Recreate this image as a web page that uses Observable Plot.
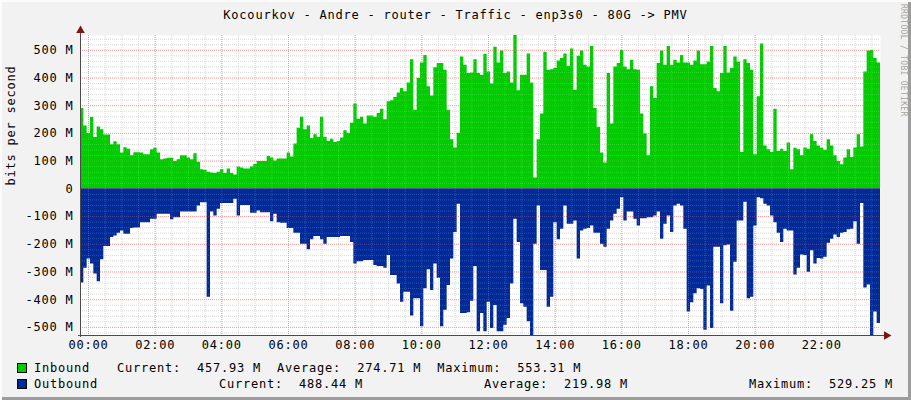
<!DOCTYPE html>
<html>
<head>
<meta charset="utf-8">
<script src="https://cdn.jsdelivr.net/npm/d3@7"></script>
<script src="https://cdn.jsdelivr.net/npm/@observablehq/plot@0.6"></script>
<style>
  body { margin: 0; background: #f2f2f2; }
  #wrap { position: relative; width: 911px; height: 400px; background: #f2f2f2; overflow: hidden;
          font-family: "DejaVu Sans Mono", monospace; font-size: 12px; letter-spacing: 0.78px; color: #000; }
  #wrap .t { position: absolute; white-space: pre; line-height: 16px; }
  #wrap .sw { position: absolute; width: 8px; height: 8px; border: 1px solid #000; }
  #edge { position: absolute; left: 0; top: 0; width: 911px; height: 400px; pointer-events: none;
          box-shadow: inset 2px 2px 0 #fcfcfc, inset -3px -3px 0 #9c9c9c; }
  #chart { position: absolute; left: 0; top: 28px; }
  #mark { position: absolute; left: 898px; top: 4px; writing-mode: vertical-rl; font-size: 8px;
          letter-spacing: 0.3px; color: #a6a6a6; line-height: 10px; }
</style>
</head>
<body>
<div id="wrap">
  <div id="title" class="t" style="left:0;width:911px;text-align:center;top:7px;"></div>
  <div id="chart"></div>
  <div id="mark">RRDTOOL / TOBI OETIKER</div>
  <div id="legend"></div>
  <div id="edge"></div>
</div>
<script>
// ---- data (Mbit/s), one sample every 6 minutes starting 00:00 - 14.4 min ----
const startHour = -0.24;
const stepHours = 0.1;

const inbound = [
  290,227,200,257,185,223,213,194,194,159,
  170,159,129,148,143,119,130,130,129,123,
  123,141,146,129,105,108,110,110,99,105,
  119,119,111,105,127,96,69,67,60,57,
  55,60,69,55,72,55,50,79,75,72,
  72,79,88,99,99,99,117,111,100,108,
  108,108,129,115,162,219,258,213,227,182,
  195,186,258,186,171,179,167,171,183,210,
  201,237,306,251,258,234,263,263,258,272,
  287,249,314,318,330,346,362,350,382,466,
  284,398,454,481,368,335,437,452,452,428,
  284,177,147,201,476,446,416,418,466,416,
  410,485,422,378,511,454,497,416,422,382,
  553,354,410,410,487,382,39,177,270,493,
  428,430,434,461,470,487,442,505,356,478,
  497,446,440,514,290,222,129,93,416,234,
  440,452,499,440,430,464,430,428,270,198,
  119,368,326,452,497,446,514,446,464,454,
  481,454,454,446,461,497,448,448,458,514,
  362,350,416,514,418,434,476,458,131,466,
  452,428,123,332,523,155,141,131,287,135,
  143,135,165,69,146,141,119,147,143,195,
  171,155,146,139,177,155,119,99,87,111,
  141,113,147,195,151,422,497,499,470,454
];

const outbound = [
  340,287,253,271,307,335,256,208,208,176,
  170,160,152,164,164,143,141,141,122,122,
  122,110,110,92,92,92,92,112,104,104,
  84,84,84,84,84,62,50,50,391,84,
  98,74,53,53,53,53,38,98,60,60,
  60,88,88,80,86,86,86,119,92,122,
  124,124,143,143,160,160,200,200,220,184,
  172,172,184,200,176,176,176,176,172,172,
  172,194,271,263,263,259,259,259,277,280,
  280,287,241,313,313,343,409,373,373,459,
  397,397,498,361,292,367,271,323,498,438,
  349,253,158,56,450,450,447,406,280,516,
  450,516,409,504,421,516,516,492,468,343,
  110,194,415,427,480,529,200,62,295,295,
  427,391,122,184,146,62,128,128,116,253,
  152,146,143,134,160,160,200,211,146,116,
  92,74,32,116,84,84,110,134,108,108,
  104,104,98,84,182,128,98,158,62,56,
  62,146,444,411,379,361,363,510,351,504,
  211,211,415,205,203,442,265,116,116,48,
  397,391,134,32,36,56,62,98,122,160,
  194,146,152,152,311,287,239,241,301,223,
  271,251,253,247,196,182,167,176,160,158,
  148,146,119,200,53,358,347,529,444,486
];

const yTicks = [-500, -400, -300, -200, -100, 0, 100, 200, 300, 400, 500];
const yTickLabels = ["-500 M", "-400 M", "-300 M", "-200 M", "-100 M", "0", "100 M", "200 M", "300 M", "400 M", "500 M"];
const xTicks = [0, 2, 4, 6, 8, 10, 12, 14, 16, 18, 20, 22];
const xTickLabels = ["00:00", "02:00", "04:00", "06:00", "08:00", "10:00", "12:00", "14:00", "16:00", "18:00", "20:00", "22:00"];
const yDomain = [-529.25, 553.31];

const titleText = "Kocourkov - Andre - router - Traffic - enp3s0 - 80G -> PMV";
const yLabel = "bits per second";

const seriesNames = ["Inbound", "Outbound"];
const seriesColors = ["#00cc00", "#002a97"];
const currentVals = ["457.93 M", "488.44 M"];
const averageVals = ["274.71 M", "219.98 M"];
const maximumVals = ["553.31 M", "529.25 M"];

// ---- build table ----
const xDomain = [startHour, startHour + inbound.length * stepHours];
const rows = inbound.map((v, i) => ({t: startHour + i * stepHours, inb: v, out: -outbound[i]}));
rows.push({t: xDomain[1], inb: inbound[inbound.length - 1], out: -outbound[outbound.length - 1]});

const minorY = d3.range(-520, 560, 20).filter(v => v % 100 !== 0);
const minorX = d3.range(0, 24, 0.5).filter(v => v % 2 !== 0);

const gridMinor = "#d4d4d4", gridMajor = "#f3a3a3";

const chart = Plot.plot({
  width: 911,
  height: 330,
  marginLeft: 80,
  marginRight: 31,
  marginTop: 7,
  marginBottom: 23,
  x: {domain: xDomain},
  y: {domain: yDomain},
  style: {background: "transparent", fontFamily: '"DejaVu Sans Mono", monospace', fontSize: "12px", color: "#000", overflow: "visible"},
  marks: [
    Plot.frame({fill: "#fff", stroke: null}),
    Plot.ruleY(minorY, {stroke: gridMinor, strokeDasharray: "1,1"}),
    Plot.ruleX(minorX, {stroke: gridMinor, strokeDasharray: "1,1"}),
    Plot.ruleY(yTicks, {stroke: gridMajor, strokeDasharray: "1,1"}),
    Plot.ruleX(xTicks, {stroke: gridMajor, strokeDasharray: "1,1"}),
    Plot.areaY(rows, {x: "t", y: "inb", curve: "step-after", fill: seriesColors[0]}),
    Plot.areaY(rows, {x: "t", y: "out", curve: "step-after", fill: seriesColors[1]}),
    Plot.ruleY(minorY, {stroke: "#ffffff", strokeOpacity: 0.18, strokeDasharray: "1,1"}),
    Plot.ruleX(minorX, {stroke: "#ffffff", strokeOpacity: 0.18, strokeDasharray: "1,1"}),
    Plot.ruleY(yTicks, {stroke: "#ff8080", strokeOpacity: 0.3, strokeDasharray: "1,1"}),
    Plot.ruleX(xTicks, {stroke: "#ff8080", strokeOpacity: 0.3, strokeDasharray: "1,1"}),
    Plot.ruleX([xDomain[0]], {stroke: "#4a4a4a", insetTop: -5, insetBottom: -2}),
    Plot.ruleY([yDomain[0]], {stroke: "#4a4a4a", insetLeft: -2, insetRight: -5}),
    Plot.dot([{x: xDomain[0], y: yDomain[1]}], {x: "x", y: "y", dy: -5, symbol: "triangle", r: 3.2, fill: "#7a1515", stroke: null}),
    Plot.dot([{x: xDomain[1], y: yDomain[0]}], {x: "x", y: "y", dx: 6, rotate: 90, symbol: "triangle", r: 3.2, fill: "#7a1515", stroke: null}),
    Plot.axisY(yTicks, {tickSize: 0, tickPadding: 7, tickFormat: d => yTickLabels[yTicks.indexOf(d)], label: null, fill: "#000"}),
    Plot.axisX(xTicks, {tickSize: 0, tickPadding: 5, tickFormat: d => xTickLabels[xTicks.indexOf(d)], label: null, fill: "#000"}),
    Plot.text([yLabel], {frameAnchor: "left", dx: -69, rotate: -90, text: d => d, fill: "#000"})
  ]
});
document.getElementById("chart").appendChild(chart);
document.getElementById("title").textContent = titleText;

// ---- legend ----
const legend = document.getElementById("legend");
function addText(str, left, top) {
  const d = document.createElement("div");
  d.className = "t";
  d.style.left = left + "px";
  d.style.top = top + "px";
  d.textContent = str;
  legend.appendChild(d);
}
function addSwatch(color, top) {
  const d = document.createElement("div");
  d.className = "sw";
  d.style.left = "17px";
  d.style.top = top + "px";
  d.style.background = color;
  legend.appendChild(d);
}
addSwatch(seriesColors[0], 363);
addText(seriesNames[0], 34, 360);
addText("Current:  " + currentVals[0] + "  Average:  " + averageVals[0] + "  Maximum:  " + maximumVals[0], 117, 360);
addSwatch(seriesColors[1], 379);
addText(seriesNames[1], 34, 376);
addText("Current:  " + currentVals[1], 219, 376);
addText("Average:  " + averageVals[1], 484, 376);
addText("Maximum:  " + maximumVals[1], 749, 376);
</script>
</body>
</html>
